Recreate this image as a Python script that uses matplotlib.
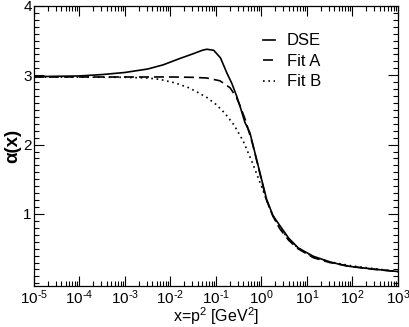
import numpy as np
import matplotlib
matplotlib.use("Agg")
import matplotlib.pyplot as plt
from matplotlib.ticker import LogLocator, MultipleLocator, NullFormatter

plt.rcParams['font.family'] = ['Liberation Sans', 'DejaVu Sans']
plt.rcParams['mathtext.fontset'] = 'custom'
plt.rcParams['mathtext.rm'] = 'Liberation Sans'
plt.rcParams['mathtext.it'] = 'Liberation Sans:italic'
plt.rcParams['mathtext.bf'] = 'Liberation Sans:bold'

# log10(x) and alpha values
dse_logx = [-5, -4, -3.5, -3, -2.5, -2.16, -1.8, -1.5, -1.3, -1.2, -1.05, -0.9, -0.765,
            -0.65, -0.545, -0.47, -0.363, -0.253, -0.07, 0.114, 0.25, 0.407, 0.6, 0.81,
            1.14, 1.5, 1.87, 2.4, 3.0]
dse_y = [2.98, 2.99, 3.01, 3.04, 3.09, 3.15, 3.24, 3.31, 3.36, 3.375, 3.36, 3.25, 3.04,
         2.88, 2.70, 2.55, 2.32, 2.17, 1.69, 1.21, 0.98, 0.83, 0.65, 0.51,
         0.39, 0.31, 0.25, 0.21, 0.17]

fitA_logx = [-5, -2, -1.5, -1.2, -0.912, -0.69, -0.55, -0.47, -0.35, -0.2, -0.07, 0.1,
             0.25, 0.4, 0.6, 0.8, 1.14, 1.5, 2.0, 2.5, 3.0]
fitA_y = [2.975, 2.975, 2.97, 2.96, 2.92, 2.82, 2.68, 2.56, 2.35, 2.02, 1.68, 1.22,
          0.97, 0.79, 0.62, 0.50, 0.37, 0.30, 0.24, 0.20, 0.17]

fitB_logx = [-5, -3, -2.5, -2.23, -1.9, -1.6, -1.42, -1.2, -1.0, -0.8, -0.6, -0.4, -0.2,
             0.0, 0.1, 0.25, 0.4, 0.6, 0.8, 1.14, 1.5, 2.0, 2.5, 3.0]
fitB_y = [2.975, 2.97, 2.96, 2.94, 2.89, 2.82, 2.76, 2.68, 2.58, 2.45, 2.28, 2.05, 1.74,
          1.40, 1.22, 0.98, 0.80, 0.64, 0.51, 0.38, 0.31, 0.25, 0.21, 0.17]

x_ticks = [1e-5, 1e-4, 1e-3, 1e-2, 1e-1, 1e0, 1e1, 1e2, 1e3]
x_exponents = ['-5', '-4', '-3', '-2', '-1', '0', '1', '2', '3']
y_ticks = [1, 2, 3, 4]

fig = plt.figure(figsize=(4.09, 3.27), dpi=100)
ax = fig.add_axes([0.083, 0.125, 0.89, 0.857])

ax.plot(10 ** np.array(dse_logx), dse_y, color='black', lw=1.2, ls='-', label='DSE')
ax.plot(10 ** np.array(fitA_logx), fitA_y, color='black', lw=1.2, ls=(0, (6, 3)), label='Fit A')
ax.plot(10 ** np.array(fitB_logx), fitB_y, color='black', lw=1.2, ls=(0, (1, 2.2)), label='Fit B')

ax.set_xscale('log')
ax.set_xlim(1e-5, 1e3)
ax.set_ylim(-0.04, 4)
ax.set_xticks(x_ticks)
ax.set_xticklabels([r'10$^{\mathrm{%s}}$' % e.replace('-', '\u2010') for e in x_exponents])
ax.xaxis.set_minor_locator(LogLocator(base=10, subs=np.arange(2, 10), numticks=20))
ax.xaxis.set_minor_formatter(NullFormatter())
ax.set_yticks(y_ticks)
ax.set_yticklabels([str(v) for v in y_ticks])
ax.yaxis.set_minor_locator(MultipleLocator(0.1))

ax.tick_params(which='both', direction='in', top=True, right=True, labelsize=11, width=0.8)
ax.tick_params(axis='x', which='both', pad=1.5)
ax.tick_params(axis='y', which='both', pad=1.5)
ax.tick_params(which='major', length=7)
ax.tick_params(which='minor', length=3.5)
for s in ax.spines.values():
    s.set_linewidth(0.9)

ax.set_xlabel(r'x=p$^{\mathrm{2}}$ [GeV$^{\mathrm{2}}$]', fontsize=11.5)
ax.xaxis.set_label_coords(0.5, -0.068)
ax.set_ylabel('\u03b1(x)', fontsize=13.5, fontweight='bold')
ax.yaxis.set_label_coords(-0.035, 0.5)

leg = ax.legend(loc='upper right', bbox_to_anchor=(0.83, 0.955), frameon=False, fontsize=12,
                handlelength=0.75, handletextpad=0.7, labelspacing=0.33)

fig.savefig('out.png', dpi=100)
